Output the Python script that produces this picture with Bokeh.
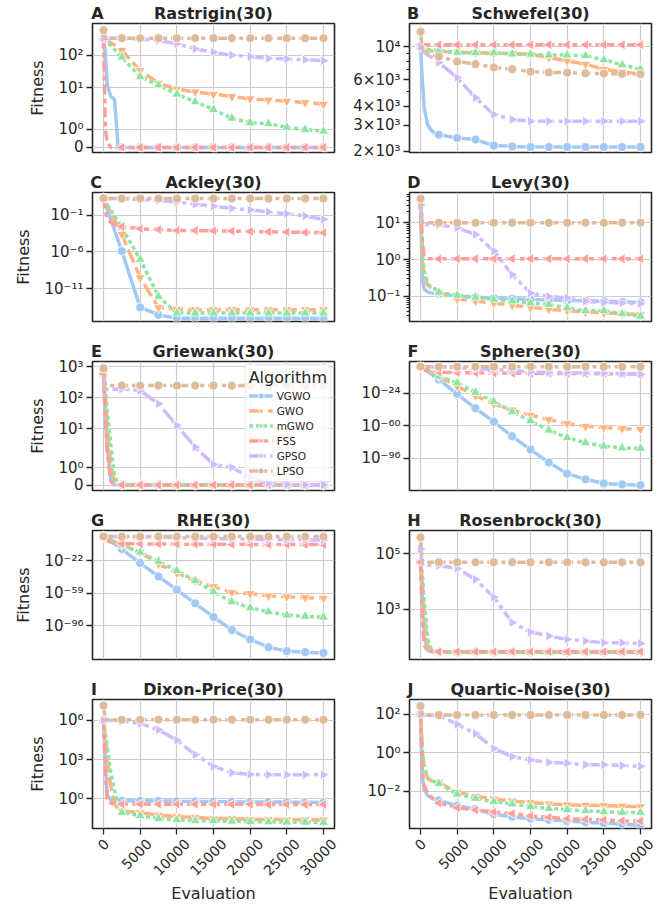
import math
from bokeh.plotting import figure
from bokeh.models import (ColumnDataSource, Range1d, FixedTicker, Legend, LinearAxis,
                          LegendItem, CustomJSTransform, CDSView, IndexFilter)
from bokeh.transform import transform
from bokeh.layouts import column, row
from bokeh.embed import file_html
from bokeh.resources import INLINE

# ---------------- data ----------------
EVALS = [0, 250, 500, 1000, 1500, 2000, 2500, 5000, 7500, 10000, 12500,
         15000, 17500, 20000, 22500, 25000, 27500, 30000]
XTICKS = [0, 5000, 10000, 15000, 20000, 25000, 30000]
ALGORITHMS = ["VGWO", "GWO", "mGWO", "FSS", "GPSO", "LPSO"]

RASTRIGIN_VGWO = [320, 120, 12, 5.5, 4.5, 0, 0, 0, 0, 0, 0, 0, 0, 0, 0, 0, 0, 0]
RASTRIGIN_GWO = [320, 290, 270, 240, 205, 170, 140, 34, 14, 9.2, 7.6, 6.5, 5.5, 4.7, 4.3, 4.0, 3.6, 3.2]
RASTRIGIN_MGWO = [320, 280, 250, 200, 150, 115, 87, 22, 12.3, 6.5, 3.8, 2.2, 1.6, 1.35, 1.3, 1.1, 0.98, 0.89]
RASTRIGIN_FSS = [320, 1.0, 0.3, 0, 0, 0, 0, 0, 0, 0, 0, 0, 0, 0, 0, 0, 0, 0]
RASTRIGIN_GPSO = [330, 330, 330, 330, 330, 330, 325, 310, 282, 224, 155, 123, 100, 91, 80, 77, 72, 68]
RASTRIGIN_LPSO = [575, 330, 330, 330, 330, 330, 330, 330, 330, 330, 330, 330, 330, 330, 330, 330, 330, 330]

SCHWEFEL_VGWO = [10000, 6000, 3900, 3000, 2750, 2650, 2590, 2460, 2400, 2190, 2160, 2140, 2140, 2140, 2140, 2140, 2140, 2140]
SCHWEFEL_GWO = [10000, 9700, 9500, 9400, 9350, 9300, 9300, 9200, 9100, 9050, 9000, 8900, 8470, 8050, 7650, 7080, 6800, 6560]
SCHWEFEL_MGWO = [10000, 9800, 9700, 9600, 9500, 9450, 9400, 9160, 9100, 9100, 8940, 8900, 8790, 8790, 8700, 8180, 7570, 7080]
SCHWEFEL_FSS = [10400, 10300, 10300, 10300, 10300, 10300, 10300, 10300, 10300, 10300, 10300, 10300, 10300, 10300, 10300, 10300, 10300, 10300]
SCHWEFEL_GPSO = [10000, 9500, 9200, 8800, 8500, 8200, 7850, 6220, 4560, 3530, 3270, 3180, 3180, 3180, 3180, 3180, 3180, 3180]
SCHWEFEL_LPSO = [12600, 9500, 9300, 9000, 8900, 8700, 8600, 7960, 7660, 7270, 7080, 6820, 6720, 6720, 6650, 6620, 6590, 6560]

ACKLEY_VGWO = [20, 3.8, 0.72, 0.026, 9.5e-4, 3.5e-5, 1.3e-6, 2.6e-14, 2.5e-15, 8.9e-16, 8.9e-16, 8.9e-16, 8.9e-16, 8.9e-16, 8.9e-16, 8.9e-16, 8.9e-16, 8.9e-16]
ACKLEY_GWO = [20, 6.5, 2.1, 0.22, 0.023, 2.4e-3, 2.5e-4, 3e-10, 2.5e-14, 1.5e-14, 1.3e-14, 1.3e-14, 1.3e-14, 1.3e-14, 1.3e-14, 1.3e-14, 1.3e-14, 1.3e-14]
ACKLEY_MGWO = [20, 8, 3.2, 0.5, 0.08, 0.0126, 2e-3, 9e-8, 8.5e-13, 4.4e-15, 4.4e-15, 4.4e-15, 4.4e-15, 4.4e-15, 4.4e-15, 4.4e-15, 4.4e-15, 4.4e-15]
ACKLEY_FSS = [20, 0.5, 0.05, 0.01, 0.005, 0.0035, 0.0028, 0.0014, 0.0011, 0.00085, 0.0008, 0.00075, 0.0007, 0.0006, 0.00055, 0.0005, 0.00045, 0.0004]
ACKLEY_GPSO = [20, 19, 19, 19, 19, 19, 18, 14, 10, 6.6, 3.1, 1.65, 0.88, 0.56, 0.27, 0.16, 0.078, 0.027]
ACKLEY_LPSO = [21, 19, 19, 19, 19, 19, 19, 19, 19, 19, 19, 19, 19, 19, 19, 19, 19, 19]

LEVY_VGWO = [40, 0.3, 0.16, 0.13, 0.125, 0.12, 0.117, 0.101, 0.095, 0.091, 0.087, 0.082, 0.08, 0.077, 0.076, 0.074, 0.072, 0.069]
LEVY_GWO = [40, 1.0, 0.35, 0.2, 0.16, 0.14, 0.13, 0.085, 0.075, 0.066, 0.058, 0.05, 0.045, 0.041, 0.038, 0.036, 0.034, 0.032]
LEVY_MGWO = [40, 1.5, 0.5, 0.22, 0.17, 0.16, 0.13, 0.107, 0.095, 0.083, 0.075, 0.066, 0.06, 0.049, 0.041, 0.041, 0.034, 0.029]
LEVY_FSS = [40, 3, 1.3, 1.05, 1.05, 1.05, 1.05, 1.05, 1.05, 1.05, 1.05, 1.05, 1.05, 1.05, 1.05, 1.05, 1.05, 1.05]
LEVY_GPSO = [30, 10, 9, 8.8, 8.8, 8.7, 8.7, 7.3, 4.8, 1.7, 0.39, 0.124, 0.1, 0.091, 0.074, 0.069, 0.066, 0.063]
LEVY_LPSO = [45, 10, 10, 10, 10, 10, 10, 10, 10, 10, 10, 10, 10, 10, 10, 10, 10, 10]

GRIEWANK_VGWO = [600, 30, 3, 0.3, 0.02, 0, 0, 0, 0, 0, 0, 0, 0, 0, 0, 0, 0, 0]
GRIEWANK_GWO = [600, 120, 12, 1.2, 0.15, 0.03, 0.01, 0.005, 0.002, 0, 0, 0, 0, 0, 0, 0, 0, 0]
GRIEWANK_MGWO = [600, 200, 40, 3, 0.5, 0.1, 0.02, 0.01, 0.005, 0.002, 0, 0, 0, 0, 0, 0, 0, 0]
GRIEWANK_FSS = [600, 20, 2, 0.2, 0.05, 0.02, 0.01, 0.01, 0.01, 0.01, 0.01, 0.01, 0.01, 0.01, 0.01, 0.01, 0.01, 0.01]
GRIEWANK_GPSO = [1000, 200, 190, 185, 190, 190, 195, 173, 65, 13, 2.6, 1.2, 1.02, 0.43, 0.08, 0.03, 0.02, 0.015]
GRIEWANK_LPSO = [890, 250, 250, 250, 250, 250, 250, 250, 250, 250, 250, 250, 250, 250, 250, 250, 250, 250]

SPHERE_VGWO = [1e5, 4e3, 160, 0.22, 3e-4, 5e-7, 8e-10, 8e-26, 1.6e-41, 2e-56, 2e-72, 5e-87, 3e-101, 1.6e-113, 1e-119, 3e-124, 2.5e-125, 4e-126]
SPHERE_GWO = [1e5, 9e3, 800, 7, 0.06, 5e-4, 4e-6, 2.5e-17, 1e-27, 1e-36, 2e-43, 5e-49, 8e-54, 2.5e-58, 2.5e-61, 1e-62, 6e-64, 1.3e-64]
SPHERE_MGWO = [1e5, 1e4, 1e3, 10, 0.1, 1e-3, 4e-6, 1.6e-13, 5e-24, 4e-34, 2.5e-45, 2.5e-55, 1e-65, 6e-74, 1.6e-79, 2.5e-83, 4e-85, 1.3e-85]
SPHERE_FSS = [1e5, 1e3, 50, 5, 1, 0.3, 0.1, 0.03, 0.02, 0.01, 0.007, 0.005, 0.004, 0.003, 0.0025, 0.002, 0.0015, 0.001]
SPHERE_GPSO = [1e5, 7e4, 6e4, 5e4, 5e4, 4e4, 3e4, 1e4, 1e3, 1e2, 10, 0.1, 0.05, 0.03, 0.01, 5e-3, 2e-3, 5e-4]
SPHERE_LPSO = [1.2e5, 1e5, 1e5, 1e5, 1e5, 1e5, 1e5, 1e5, 1e5, 1e5, 1e5, 1e5, 1e5, 1e5, 1e5, 1e5, 1e5, 1e5]

RHE_VGWO = [2e5, 8e3, 300, 0.46, 6e-4, 1e-6, 1.6e-9, 2e-25, 1.3e-40, 1e-55, 5e-71, 1.6e-86, 2.5e-101, 5e-112, 1e-120, 2.5e-125, 2e-126, 3e-127]
RHE_GWO = [2e5, 2.5e4, 2.5e3, 30, 0.4, 6e-3, 1e-4, 3e-13, 1.6e-26, 1e-36, 1.6e-45, 5e-52, 8e-59, 6e-60, 1.3e-62, 1e-63, 1.6e-64, 2.5e-65]
RHE_MGWO = [2e5, 2.5e4, 2.5e3, 30, 0.4, 6e-3, 3e-5, 2.5e-13, 1.6e-23, 4e-34, 1.6e-45, 5e-58, 2e-69, 3e-76, 1e-80, 1.6e-84, 1e-85, 8e-87]
RHE_FSS = [2e5, 1e3, 10, 0.1, 0.01, 3e-3, 2e-3, 1e-3, 8e-4, 6e-4, 5e-4, 4e-4, 3.5e-4, 3e-4, 2.5e-4, 2e-4, 1.8e-4, 1.5e-4]
RHE_GPSO = [2e5, 2e5, 2e5, 2e5, 2e5, 2e5, 1.5e5, 1e5, 5e4, 2e4, 5e3, 1e3, 500, 200, 100, 60, 40, 30]
RHE_LPSO = [3e5, 2e5, 2e5, 2e5, 2e5, 2e5, 2e5, 2e5, 2e5, 2e5, 2e5, 2e5, 2e5, 2e5, 2e5, 2e5, 2e5, 2e5]

ROSENBROCK_VGWO = [5e4, 3e3, 100, 32, 29, 28.7, 28.5, 28.5, 28.4, 28.4, 28.3, 28.3, 28.2, 28.2, 28.1, 28.1, 28, 28]
ROSENBROCK_GWO = [5e4, 1e4, 500, 50, 30, 29, 28.8, 28.7, 28.7, 28.6, 28.6, 28.6, 28.5, 28.5, 28.5, 28.5, 28.5, 28.5]
ROSENBROCK_MGWO = [5e4, 2e4, 2e3, 80, 35, 29, 28.5, 28, 27.8, 27.6, 27.5, 27.4, 27.3, 27.2, 27.1, 27, 27, 27]
ROSENBROCK_FSS = [5e4, 500, 50, 30, 29.5, 29.2, 29, 29, 29, 29, 29, 29, 29, 29, 29, 29, 29, 29]
ROSENBROCK_GPSO = [1.5e5, 4e4, 3.9e4, 3.9e4, 3.8e4, 3.8e4, 3.8e4, 3e4, 1.2e4, 2.7e3, 330, 150, 108, 81, 71, 61, 61, 58]
ROSENBROCK_LPSO = [4e5, 5e4, 5e4, 5e4, 5e4, 5e4, 5e4, 5e4, 5e4, 5e4, 5e4, 5e4, 5e4, 5e4, 5e4, 5e4, 5e4, 5e4]

DIXON_VGWO = [1e6, 1e3, 2, 0.8, 0.76, 0.75, 0.74, 0.72, 0.7, 0.67, 0.65, 0.63, 0.62, 0.6, 0.6, 0.58, 0.57, 0.55]
DIXON_GWO = [1e6, 5e4, 1e3, 10, 0.5, 0.15, 0.12, 0.09, 0.059, 0.045, 0.04, 0.032, 0.032, 0.028, 0.027, 0.026, 0.026, 0.026]
DIXON_MGWO = [1e6, 1e5, 1e4, 100, 5, 0.3, 0.095, 0.053, 0.032, 0.026, 0.022, 0.022, 0.02, 0.019, 0.018, 0.017, 0.017, 0.016]
DIXON_FSS = [1e6, 100, 1, 0.45, 0.42, 0.41, 0.41, 0.41, 0.40, 0.40, 0.40, 0.39, 0.39, 0.39, 0.38, 0.38, 0.38, 0.38]
DIXON_GPSO = [1e6, 1e6, 1e6, 1e6, 1e6, 9e5, 8.4e5, 5.6e5, 1.9e5, 3e4, 2.4e3, 300, 100, 74, 70, 70, 70, 70]
DIXON_LPSO = [1.3e7, 1.1e6, 1.1e6, 1.1e6, 1.1e6, 1.1e6, 1.1e6, 1.1e6, 1.1e6, 1.1e6, 1.1e6, 1.1e6, 1.1e6, 1.1e6, 1.1e6, 1.1e6, 1.1e6, 1.1e6]

QUARTIC_VGWO = [100, 0.05, 0.012, 0.006, 0.0045, 0.0039, 0.0034, 0.0018, 0.0012, 0.00065, 0.00048, 0.00038, 0.00033, 0.00029, 0.00025, 0.00022, 0.0002, 0.000166]
QUARTIC_GWO = [100, 1.2, 0.18, 0.045, 0.035, 0.03, 0.028, 0.009, 0.0055, 0.004, 0.0032, 0.0026, 0.0022, 0.002, 0.0019, 0.0018, 0.0017, 0.0016]
QUARTIC_MGWO = [100, 1.5, 0.2, 0.05, 0.036, 0.03, 0.025, 0.0072, 0.0043, 0.0029, 0.0022, 0.0016, 0.0013, 0.0011, 0.00098, 0.00087, 0.0008, 0.0008]
QUARTIC_FSS = [100, 0.1, 0.02, 0.008, 0.005, 0.0035, 0.0025, 0.0014, 0.0011, 0.00085, 0.0007, 0.00053, 0.00045, 0.00038, 0.00035, 0.00033, 0.00029, 0.00029]
QUARTIC_GPSO = [100, 95, 93, 92, 91, 90, 90, 30, 10, 1.7, 0.64, 0.43, 0.32, 0.29, 0.24, 0.24, 0.22, 0.2]
QUARTIC_LPSO = [270, 92, 92, 92, 92, 92, 92, 92, 92, 92, 92, 92, 92, 92, 92, 92, 92, 92]

# ---------------- styles ----------------
COLORS = ["#a1c9f4", "#ffb482", "#8de5a1", "#ff9f9b", "#d0bbff", "#debb9b"]
MARKERS = ["circle", "inverted_triangle", "triangle", "triangle", "triangle", "circle"]
ANGLES = [0, 0, 0, math.pi / 2, -math.pi / 2, 0]
SIZES = [9, 10, 10, 10, 10, 9]
DASHES = ["solid", "14 5", "4 3", "10 4 5 4", "17 4 4 4", "10 4 4 4 4 4"]
INK = "#262626"
FONT = "DejaVu Sans"
FRAME_W, FRAME_H = 242, 129
X_LO, X_HI = -1500, 31500
PX = (X_HI - X_LO) / FRAME_W          # data units per screen pixel along x
# horizontal offset (px from the frame's left edge) of each panel letter's centre
LETTER_DX = {"A": 6, "B": 4.5, "C": 4.5, "D": 5.5, "E": 5, "F": 4.5, "G": 6, "H": 5.5, "I": 2.5, "J": 2}
# rotated x labels are drawn right-anchored by Bokeh; shift (px) that centres them on their tick
XLABEL_SHIFT = {1: 3, 4: 9, 5: 10.5}

SUP = str.maketrans("0123456789-", "⁰¹²³⁴⁵⁶⁷⁸⁹⁻")


def pow_label(e):
    return "10" + str(e).translate(SUP)


L_THRESH = 2.0
S_ADJ = 1.0 / (1.0 - 0.1)


def symlog_py(v):
    a = abs(v)
    if a <= L_THRESH:
        return v * S_ADJ
    return math.copysign(L_THRESH * (S_ADJ + math.log10(a / L_THRESH)), v)


SYMLOG = CustomJSTransform(
    func="""
const L = 2.0, s = 1.0/(1.0-0.1);
const a = Math.abs(x);
return a <= L ? x*s : Math.sign(x)*L*(s + Math.log10(a/L));
""",
    v_func="""
const L = 2.0, s = 1.0/(1.0-0.1);
const out = new Array(xs.length);
for (let i = 0; i < xs.length; i++) {
  const v = xs[i], a = Math.abs(v);
  out[i] = a <= L ? v*s : Math.sign(v)*L*(s + Math.log10(a/L));
}
return out;
""")

MARK_IDX = [i for i, e in enumerate(EVALS) if e % 2500 == 0]


def log_minor(lo, hi):
    out = []
    for k in range(math.floor(math.log10(lo)), math.ceil(math.log10(hi)) + 1):
        for m in range(2, 10):
            v = m * 10.0 ** k
            if lo <= v <= hi:
                out.append(v)
    return out


PANELS = [
    ("A", "Rastrigin(30)", [RASTRIGIN_VGWO, RASTRIGIN_GWO, RASTRIGIN_MGWO, RASTRIGIN_FSS, RASTRIGIN_GPSO, RASTRIGIN_LPSO],
     "symlog", (-0.31, 7.55), [0, 1, 10, 100], ["0", pow_label(0), pow_label(1), pow_label(2)], [], None),
    ("B", "Schwefel(30)", [SCHWEFEL_VGWO, SCHWEFEL_GWO, SCHWEFEL_MGWO, SCHWEFEL_FSS, SCHWEFEL_GPSO, SCHWEFEL_LPSO],
     "log", (1968, 14290), [2000, 3000, 4000, 6000, 10000],
     ["2×" + pow_label(3), "3×" + pow_label(3), "4×" + pow_label(3), "6×" + pow_label(3), pow_label(4)],
     [5000, 7000, 8000, 9000], [10000]),
    ("C", "Ackley(30)", [ACKLEY_VGWO, ACKLEY_GWO, ACKLEY_MGWO, ACKLEY_FSS, ACKLEY_GPSO, ACKLEY_LPSO],
     "log", (10 ** -15.5, 10 ** 2.1), [1e-11, 1e-6, 1e-1], [pow_label(-11), pow_label(-6), pow_label(-1)], [], None),
    ("D", "Levy(30)", [LEVY_VGWO, LEVY_GWO, LEVY_MGWO, LEVY_FSS, LEVY_GPSO, LEVY_LPSO],
     "log", (10 ** -1.68, 10 ** 1.82), [0.1, 1.0, 10.0], [pow_label(-1), pow_label(0), pow_label(1)],
     log_minor(10 ** -1.68, 10 ** 1.82), None),
    ("E", "Griewank(30)", [GRIEWANK_VGWO, GRIEWANK_GWO, GRIEWANK_MGWO, GRIEWANK_FSS, GRIEWANK_GPSO, GRIEWANK_LPSO],
     "symlog", (-0.35, 7.97), [0, 1, 10, 100, 1000],
     ["0", pow_label(0), pow_label(1), pow_label(2), pow_label(3)], [], None),
    ("F", "Sphere(30)", [SPHERE_VGWO, SPHERE_GWO, SPHERE_MGWO, SPHERE_FSS, SPHERE_GPSO, SPHERE_LPSO],
     "log", (10 ** -131.3, 10 ** 10.7), [1e-96, 1e-60, 1e-24], [pow_label(-96), pow_label(-60), pow_label(-24)], [], None),
    ("G", "RHE(30)", [RHE_VGWO, RHE_GWO, RHE_MGWO, RHE_FSS, RHE_GPSO, RHE_LPSO],
     "log", (10 ** -134, 10 ** 12.2), [1e-96, 1e-59, 1e-22], [pow_label(-96), pow_label(-59), pow_label(-22)], [], None),
    ("H", "Rosenbrock(30)", [ROSENBROCK_VGWO, ROSENBROCK_GWO, ROSENBROCK_MGWO, ROSENBROCK_FSS, ROSENBROCK_GPSO, ROSENBROCK_LPSO],
     "log", (10 ** 1.18, 10 ** 5.85), [1e3, 1e5], [pow_label(3), pow_label(5)], [], None),
    ("I", "Dixon-Price(30)", [DIXON_VGWO, DIXON_GWO, DIXON_MGWO, DIXON_FSS, DIXON_GPSO, DIXON_LPSO],
     "log", (10 ** -2.25, 10 ** 7.58), [1.0, 1e3, 1e6], [pow_label(0), pow_label(3), pow_label(6)], [], None),
    ("J", "Quartic-Noise(30)", [QUARTIC_VGWO, QUARTIC_GWO, QUARTIC_MGWO, QUARTIC_FSS, QUARTIC_GPSO, QUARTIC_LPSO],
     "log", (10 ** -3.93, 10 ** 2.77), [1e-2, 1.0, 1e2], [pow_label(-2), pow_label(0), pow_label(2)], [], None),
]


def plain_axis(ax):
    ax.axis_line_color = None
    ax.major_tick_line_color = None
    ax.minor_tick_line_color = None
    ax.major_tick_out = 0
    ax.major_tick_in = 0
    ax.minor_tick_out = 0
    ax.minor_tick_in = 0


def make_panel(idx, spec):
    letter, name, series, kind, yr, ticks, labels, minor, grid_ticks = spec
    col = idx % 2
    bottom = idx >= 8
    kw = dict(frame_width=FRAME_W, frame_height=FRAME_H, output_backend="svg", toolbar_location=None,
              x_range=Range1d(X_LO, X_HI), y_range=Range1d(*yr),
              min_border_top=20, min_border_bottom=80 if bottom else 17,
              min_border_left=92 if col == 0 else 63, min_border_right=12 if col == 0 else 5,
              background_fill_color="white", border_fill_color="white")
    if kind == "log":
        p = figure(y_axis_type="log", **kw)
        tick_pos = [float(t) for t in ticks]
        yspec = "y"
    else:
        p = figure(**kw)
        tick_pos = [symlog_py(t) for t in ticks]
        yspec = transform("y", SYMLOG)

    p.outline_line_color = INK
    p.outline_line_width = 1.6

    # panel letter and function name share one line above the frame
    letter_x = X_LO + (LETTER_DX[letter] - 1) * PX
    title_x = (X_LO + X_HI) / 2
    top_ax = LinearAxis(ticker=FixedTicker(ticks=[letter_x, title_x]),
                        major_label_overrides={letter_x: letter, title_x: name})
    plain_axis(top_ax)
    top_ax.major_label_standoff = 1
    top_ax.major_label_text_font = FONT
    top_ax.major_label_text_font_size = "16px"
    top_ax.major_label_text_font_style = "bold"
    top_ax.major_label_text_color = INK
    p.add_layout(top_ax, "above")

    # y axis
    p.yaxis.ticker = FixedTicker(ticks=tick_pos, minor_ticks=minor)
    p.yaxis.major_label_overrides = {t: l for t, l in zip(tick_pos, labels)}
    p.ygrid.ticker = FixedTicker(ticks=[float(t) for t in grid_ticks] if grid_ticks else tick_pos)
    p.yaxis.axis_line_color = None
    p.yaxis.major_tick_out = 6
    p.yaxis.major_tick_in = 0
    p.yaxis.minor_tick_out = 3
    p.yaxis.minor_tick_in = 0
    p.yaxis.major_tick_line_color = INK
    p.yaxis.minor_tick_line_color = INK
    p.yaxis.major_tick_line_width = 1.3
    p.yaxis.minor_tick_line_width = 1
    p.yaxis.major_label_text_font = FONT
    p.yaxis.major_label_text_font_size = "15px"
    p.yaxis.major_label_text_color = INK
    p.yaxis.major_label_standoff = 3
    if col == 0:
        p.yaxis.axis_label = "Fitness"
        p.yaxis.axis_label_text_font = FONT
        p.yaxis.axis_label_text_font_size = "16px"
        p.yaxis.axis_label_text_font_style = "normal"
        p.yaxis.axis_label_text_color = INK
        p.yaxis.axis_label_standoff = 8

    # x axis
    xax = p.below[0]
    xax.ticker = FixedTicker(ticks=XTICKS)
    p.xgrid.ticker = FixedTicker(ticks=XTICKS)
    if bottom:
        # tick marks at the true values
        xax.axis_line_color = None
        xax.major_tick_out = 6
        xax.major_tick_in = 0
        xax.minor_tick_out = 0
        xax.minor_tick_in = 0
        xax.major_tick_line_color = INK
        xax.major_tick_line_width = 1.3
        xax.major_label_overrides = {t: "" for t in XTICKS}
        xax.major_label_standoff = 0
        # rotated tick labels, centred on their ticks, plus the axis title
        lab_pos = [t + XLABEL_SHIFT[len(str(t))] * PX for t in XTICKS]
        lab_ax = LinearAxis(ticker=FixedTicker(ticks=lab_pos),
                            major_label_overrides={q: str(t) for q, t in zip(lab_pos, XTICKS)})
        plain_axis(lab_ax)
        lab_ax.major_label_orientation = math.pi / 4
        lab_ax.major_label_text_font = FONT
        lab_ax.major_label_text_font_size = "14px"
        lab_ax.major_label_text_color = INK
        lab_ax.major_label_standoff = 7
        lab_ax.axis_label = "Evaluation"
        lab_ax.axis_label_text_font = FONT
        lab_ax.axis_label_text_font_size = "16px"
        lab_ax.axis_label_text_font_style = "normal"
        lab_ax.axis_label_text_color = INK
        lab_ax.axis_label_standoff = 1
        p.add_layout(lab_ax, "below")
    else:
        xax.visible = False

    for g in (p.xgrid, p.ygrid):
        g.grid_line_color = "#cccccc"
        g.grid_line_width = 1.2

    items = []
    for k, alg in enumerate(ALGORITHMS):
        src = ColumnDataSource(dict(x=EVALS, y=series[k]))
        lr = p.line(x="x", y=yspec, source=src, line_color=COLORS[k], line_width=3.5,
                    line_dash=DASHES[k])
        sr = p.scatter(x="x", y=yspec, source=src, view=CDSView(filter=IndexFilter(MARK_IDX)),
                       marker=MARKERS[k], angle=ANGLES[k], size=SIZES[k],
                       fill_color=COLORS[k], line_color="white", line_width=0.8)
        items.append(LegendItem(label=alg, renderers=[lr, sr], index=0))

    if letter == "E":
        lg = Legend(items=items, location="top_right", title="Algorithm")
        lg.title_text_font = FONT
        lg.title_text_font_size = "16px"
        lg.title_text_font_style = "normal"
        lg.title_text_color = INK
        lg.title_standoff = 1
        lg.label_text_font = FONT
        lg.label_text_font_size = "10.5px"
        lg.label_text_color = INK
        lg.glyph_width = 24
        lg.glyph_height = 15
        lg.label_height = 15
        lg.label_standoff = 4
        lg.spacing = 0
        lg.padding = 3
        lg.margin = 3
        lg.border_line_color = "#cccccc"
        lg.border_line_width = 1
        lg.background_fill_color = "white"
        lg.background_fill_alpha = 0.8
        p.add_layout(lg)
    return p


figs = [make_panel(i, s) for i, s in enumerate(PANELS)]
layout = column(*[row(figs[2 * r], figs[2 * r + 1]) for r in range(5)])

open("out.html", "w").write(file_html(layout, INLINE))
